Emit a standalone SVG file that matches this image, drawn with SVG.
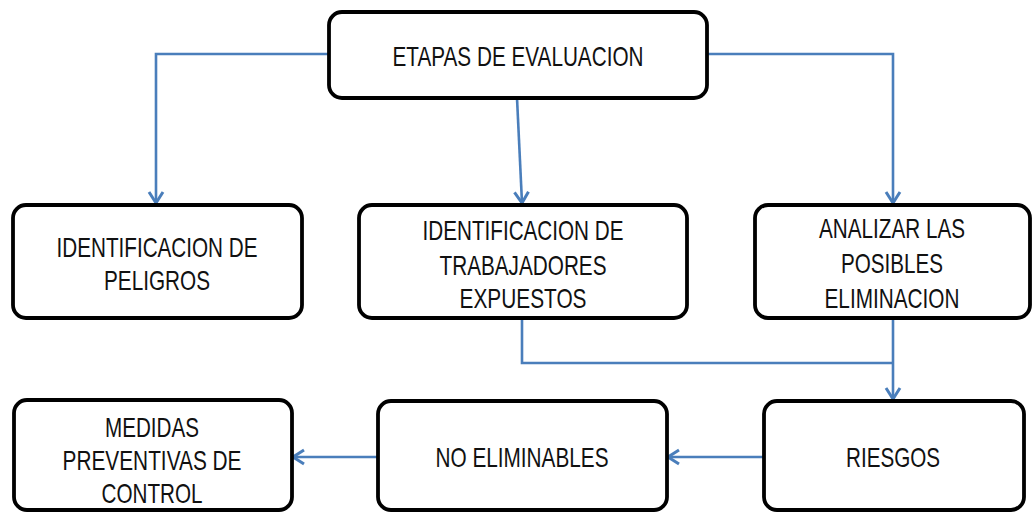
<svg xmlns="http://www.w3.org/2000/svg" width="1032" height="514" viewBox="0 0 1032 514">
<defs>
<style>
.box{fill:#ffffff;stroke:#000000;stroke-width:3.8}
.lbl{font-family:"Liberation Sans Narrow","Liberation Sans",Arial,sans-serif;font-size:27.5px;fill:#111111;text-anchor:middle}
.con{fill:none;stroke:#4a7ebb;stroke-width:2.6}
</style>
<marker id="arr" markerUnits="userSpaceOnUse" markerWidth="20" markerHeight="20" viewBox="-14 -10 16 20" refX="0" refY="0" orient="auto">
<path d="M-11,-7 L0,0 L-11,7" fill="none" stroke="#4a7ebb" stroke-width="3"/>
</marker>
</defs>
<rect width="1032" height="514" fill="#ffffff"/>
<g id="connectors">
<path class="con" d="M329,54 H156 V203" marker-end="url(#arr)"/>
<path class="con" d="M517,98 L522,203" marker-end="url(#arr)"/>
<path class="con" d="M707,54 H893 V203" marker-end="url(#arr)"/>
<path class="con" d="M522,318 V363 H893"/>
<path class="con" d="M893,318 V399" marker-end="url(#arr)"/>
<path class="con" d="M764,457 H668" marker-end="url(#arr)"/>
<path class="con" d="M378,457 H293" marker-end="url(#arr)"/>
</g>
<g id="etapas">
<rect class="box" x="329" y="12" width="378" height="86" rx="13"/>
<text class="lbl" x="518" y="66" textLength="251" lengthAdjust="spacingAndGlyphs">ETAPAS DE EVALUACION</text>
</g>
<g id="peligros">
<rect class="box" x="13" y="205" width="289" height="113" rx="13"/>
<text class="lbl" x="157" y="257" textLength="201" lengthAdjust="spacingAndGlyphs">IDENTIFICACION DE</text>
<text class="lbl" x="157" y="290" textLength="106" lengthAdjust="spacingAndGlyphs">PELIGROS</text>
</g>
<g id="trabajadores">
<rect class="box" x="359" y="205" width="328" height="113" rx="13"/>
<text class="lbl" x="523" y="240" textLength="201" lengthAdjust="spacingAndGlyphs">IDENTIFICACION DE</text>
<text class="lbl" x="523" y="275" textLength="167" lengthAdjust="spacingAndGlyphs">TRABAJADORES</text>
<text class="lbl" x="523" y="308" textLength="127" lengthAdjust="spacingAndGlyphs">EXPUESTOS</text>
</g>
<g id="analizar">
<rect class="box" x="755" y="205" width="275" height="113" rx="13"/>
<text class="lbl" x="892" y="238" textLength="146" lengthAdjust="spacingAndGlyphs">ANALIZAR LAS</text>
<text class="lbl" x="892" y="273" textLength="102" lengthAdjust="spacingAndGlyphs">POSIBLES</text>
<text class="lbl" x="892" y="308" textLength="135" lengthAdjust="spacingAndGlyphs">ELIMINACION</text>
</g>
<g id="medidas">
<rect class="box" x="14" y="400" width="278" height="110" rx="13"/>
<text class="lbl" x="152" y="437" textLength="94" lengthAdjust="spacingAndGlyphs">MEDIDAS</text>
<text class="lbl" x="152" y="470" textLength="179" lengthAdjust="spacingAndGlyphs">PREVENTIVAS DE</text>
<text class="lbl" x="152" y="503" textLength="101" lengthAdjust="spacingAndGlyphs">CONTROL</text>
</g>
<g id="no-eliminables">
<rect class="box" x="378" y="401" width="289" height="109" rx="13"/>
<text class="lbl" x="522" y="467" textLength="173" lengthAdjust="spacingAndGlyphs">NO ELIMINABLES</text>
</g>
<g id="riesgos">
<rect class="box" x="764" y="401" width="260" height="109" rx="13"/>
<text class="lbl" x="893" y="467" textLength="94" lengthAdjust="spacingAndGlyphs">RIESGOS</text>
</g>
</svg>
